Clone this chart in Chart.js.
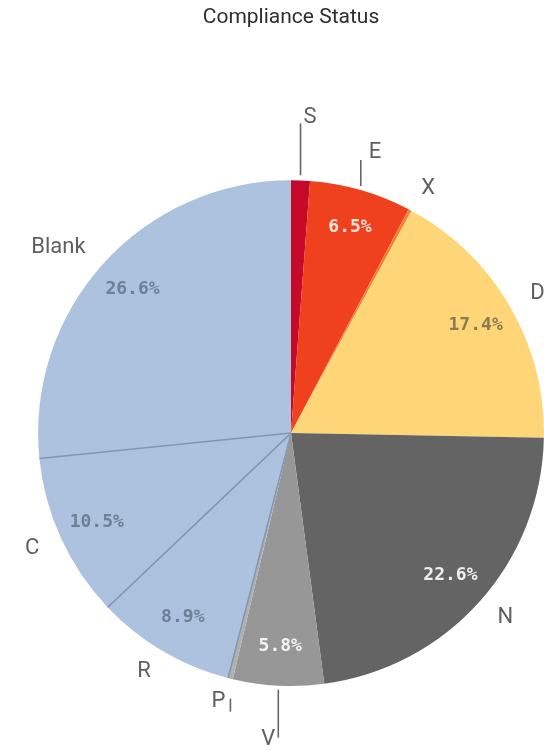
<!DOCTYPE html>
<html>
<head>
<meta charset="utf-8">
<script src="https://cdn.jsdelivr.net/npm/chart.js@4.4.0/dist/chart.umd.min.js"></script>
<style>
  html, body { margin: 0; padding: 0; background: #ffffff; }
  #wrap { position: relative; width: 544px; height: 750px; }
</style>
</head>
<body>
<div id="wrap"><canvas id="c" width="544" height="750"></canvas></div>
<script>
// ---- data ----
const chartTitle = 'Compliance Status';
const categories = ['S', 'E', 'X', 'D', 'N', 'V', 'P', 'R', 'C', 'Blank'];
const shares = [1.2, 6.5, 0.2, 17.4, 22.6, 5.8, 0.3, 8.9, 10.5, 26.6];

// ---- styles ----
const sliceColors = ['#c50a2a', '#f0411f', '#f47e32', '#fed677', '#646464', '#979797', '#b0b0b0', '#adc2de', '#adc2de', '#adc2de'];
const pctColors = ['#ffffff', '#fbe4da', '#ffffff', '#8a7a4f', '#f0f0f0', '#f4f4f4', '#ffffff', '#6e7f97', '#6e7f97', '#6e7f97'];
const separatorBefore = ['R', 'C', 'Blank'];
const leaderStyle = {
  S: { dir: -1, gap: 5, len: 52, dx: 3, dy: -6, align: 'left' },
  E: { dir: -1, gap: 4, len: 26, dx: 8, dy: -8, align: 'left' },
  V: { dir: 1, gap: 4, len: 48, dx: -3, dy: 2, align: 'right' },
  P: { dir: 1, gap: 20, len: 13, dx: -5, dy: -10, align: 'right' }
};
const minPctShown = 5;

const labelPlugin = {
  id: 'pieLabels',
  afterDatasetsDraw(chart) {
    const ctx = chart.ctx;
    const meta = chart.getDatasetMeta(0);
    ctx.save();
    // separators between blue slices
    meta.data.forEach((arc, i) => {
      if (!separatorBefore.includes(categories[i])) return;
      const a = arc.startAngle;
      ctx.beginPath();
      ctx.moveTo(arc.x, arc.y);
      ctx.lineTo(arc.x + arc.outerRadius * Math.cos(a), arc.y + arc.outerRadius * Math.sin(a));
      ctx.strokeStyle = '#8196b3';
      ctx.lineWidth = 1.5;
      ctx.stroke();
    });
    // percentage labels
    meta.data.forEach((arc, i) => {
      if (shares[i] < minPctShown) return;
      const a = (arc.startAngle + arc.endAngle) / 2;
      const r = arc.outerRadius * 0.845;
      ctx.font = 'bold 18px "DejaVu Sans Mono", monospace';
      ctx.fillStyle = pctColors[i];
      ctx.textAlign = 'center';
      ctx.textBaseline = 'middle';
      ctx.fillText(shares[i].toFixed(1) + '%', arc.x + r * Math.cos(a), arc.y + r * Math.sin(a));
    });
    // category labels
    meta.data.forEach((arc, i) => {
      const name = categories[i];
      const a = (arc.startAngle + arc.endAngle) / 2;
      const R = arc.outerRadius;
      ctx.font = '22px Roboto, "Liberation Sans", sans-serif';
      ctx.fillStyle = '#5f5f5f';
      ctx.textBaseline = 'middle';
      const ls = leaderStyle[name];
      if (ls) {
        const ex = arc.x + R * Math.cos(a);
        const ey = arc.y + R * Math.sin(a);
        const y0 = ey + ls.dir * ls.gap;
        const y1 = y0 + ls.dir * ls.len;
        ctx.beginPath();
        ctx.moveTo(ex, y0);
        ctx.lineTo(ex, y1);
        ctx.strokeStyle = '#666666';
        ctx.lineWidth = 1.6;
        ctx.stroke();
        ctx.textAlign = ls.align;
        ctx.fillText(name, ex + ls.dx, y1 + ls.dy);
      } else {
        const r = R + 24;
        const x = arc.x + r * Math.cos(a);
        const y = arc.y + r * Math.sin(a);
        ctx.textAlign = Math.cos(a) >= 0 ? 'left' : 'right';
        ctx.fillText(name, x, y);
      }
    });
    ctx.restore();
  }
};

new Chart(document.getElementById('c'), {
  type: 'pie',
  data: {
    labels: categories,
    datasets: [{
      data: shares,
      backgroundColor: sliceColors,
      borderWidth: 0
    }]
  },
  options: {
    responsive: false,
    animation: false,
    events: [],
    layout: { padding: { left: 38, right: 0, top: 0, bottom: 64 } },
    plugins: {
      legend: { display: false },
      tooltip: { enabled: false },
      title: {
        display: true,
        text: chartTitle,
        color: '#2e2e2e',
        font: { family: 'Roboto, "Liberation Sans", sans-serif', size: 21, weight: 'normal', lineHeight: 1.2 },
        padding: { top: 5, bottom: 150 }
      }
    }
  },
  plugins: [labelPlugin]
});
</script>
</body>
</html>
